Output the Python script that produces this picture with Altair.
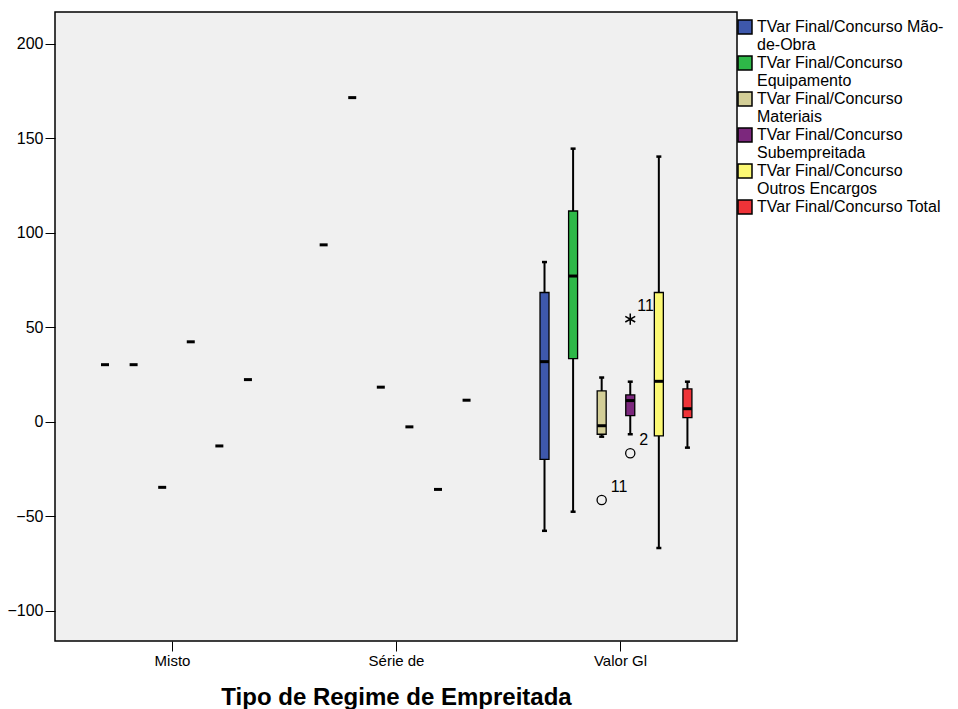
import altair as alt
import pandas as pd

# ---------------- data ----------------
categories = ["Misto", "Série de", "Valor Gl"]
series = [
    "TVar Final/Concurso Mão-de-Obra",
    "TVar Final/Concurso Equipamento",
    "TVar Final/Concurso Materiais",
    "TVar Final/Concurso Subempreitada",
    "TVar Final/Concurso Outros Encargos",
    "TVar Final/Concurso Total",
]
legend_lines = [
    ["TVar Final/Concurso Mão-", "de-Obra"],
    ["TVar Final/Concurso", "Equipamento"],
    ["TVar Final/Concurso", "Materiais"],
    ["TVar Final/Concurso", "Subempreitada"],
    ["TVar Final/Concurso", "Outros Encargos"],
    ["TVar Final/Concurso Total"],
]
colors = ["#3E58AC", "#2EB848", "#D3CE97", "#7C287D", "#FBF873", "#EF3338"]

# single-case groups (Misto, Série de)
misto_values = [30.3, 30.3, -34.6, 42.4, -12.7, 22.4]
serie_values = [93.7, 171.6, 18.4, -2.6, -35.7, 11.5]

# Valor Gl box statistics
vg_low = [-57.6, -47.5, -7.8, -6.5, -66.7, -13.6]
vg_q1 = [-19.8, 33.5, -6.5, 3.3, -7.4, 2.3]
vg_median = [31.9, 77.2, -2.0, 11.3, 21.5, 7.0]
vg_q3 = [68.5, 111.6, 16.4, 14.3, 68.5, 17.5]
vg_high = [84.6, 144.6, 23.5, 21.3, 140.4, 21.3]

# outliers (Valor Gl)
outlier_series = [series[2], series[3]]
outlier_values = [-41.3, -16.6]
outlier_labels = ["11", "2"]
extreme_series = [series[3]]
extreme_values = [54.4]
extreme_labels = ["11"]

# ---------------- layout helpers ----------------
cat_center = [0.5, 1.5, 2.5]
cluster_shift = [0.020, -0.004, -0.018]
slot = 0.1276


def xpos(cat_i, ser_name):
    s = series.index(ser_name)
    return cat_center[cat_i] + cluster_shift[cat_i] + (s - 2.5) * slot


single_rows = []
for ci, vals in [(0, misto_values), (1, serie_values)]:
    for s, v in zip(series, vals):
        single_rows.append({"cat": categories[ci], "series": s, "x": xpos(ci, s), "v": v})
single_df = pd.DataFrame(single_rows)

box_df = pd.DataFrame({
    "cat": categories[2],
    "series": series,
    "x": [xpos(2, s) for s in series],
    "low": vg_low, "q1": vg_q1, "median": vg_median, "q3": vg_q3, "high": vg_high,
})

out_df = pd.DataFrame({
    "series": outlier_series,
    "x": [xpos(2, s) for s in outlier_series],
    "v": outlier_values,
    "label": outlier_labels,
})
ext_df = pd.DataFrame({
    "series": extreme_series,
    "x": [xpos(2, s) for s in extreme_series],
    "v": extreme_values,
    "label": extreme_labels,
})

# ---------------- scales ----------------
FONT = "Liberation Sans"
xscale = alt.Scale(domain=[0, 3], nice=False, zero=False)
yscale = alt.Scale(domain=[-115.9, 216.9], nice=False, zero=False)

label_expr_x = " : ".join(
    [f"abs(datum.value - {c}) < 0.01 ? '{n}'" for c, n in zip(cat_center, categories)]
) + " : ''"

legend_expr = " : ".join(
    [f"datum.label == '{s}' ? {lines!r}" for s, lines in zip(series, legend_lines)]
) + " : datum.label"

X = alt.X(
    "x:Q", scale=xscale,
    axis=alt.Axis(
        values=cat_center, labelExpr=label_expr_x, title="Tipo de Regime de Empreitada",
        grid=False, domain=False, tickColor="black", tickSize=10, tickWidth=1,
        labelFont=FONT, labelFontSize=15, labelColor="black", labelPadding=2,
        titleFont=FONT, titleFontSize=24, titleFontWeight="bold", titleColor="black",
        titlePadding=17,
    ),
)
Y = alt.Y(
    "v:Q", scale=yscale,
    axis=alt.Axis(
        values=[-100, -50, 0, 50, 100, 150, 200], title=None, grid=False, domain=False,
        tickColor="black", tickSize=10, tickWidth=1,
        labelFont=FONT, labelFontSize=16, labelColor="black", labelPadding=2,
    ),
)

color = alt.Color(
    "series:N",
    scale=alt.Scale(domain=series, range=colors),
    sort=series,
    legend=alt.Legend(
        title=None, orient="none", legendX=682, legendY=7,
        symbolType="square", symbolSize=196, symbolStrokeColor="black",
        symbolStrokeWidth=1.5, symbolOpacity=1,
        labelFont=FONT, labelFontSize=16, labelColor="black",
        labelLimit=400, labelOffset=4, labelExpr=legend_expr, rowPadding=0,
        padding=0,
    ),
)

single = alt.Chart(single_df).mark_tick(
    orient="horizontal", size=8, thickness=3, color="black", opacity=1
).encode(x=X, y=Y)

whisk = alt.Chart(box_df).mark_rule(color="black", strokeWidth=2, opacity=1).encode(
    x=alt.X("x:Q", scale=xscale), y=alt.Y("low:Q", scale=yscale), y2="high:Q"
)
boxes = alt.Chart(box_df).mark_bar(size=9, stroke="black", strokeWidth=1.3, opacity=1).encode(
    x=alt.X("x:Q", scale=xscale), y=alt.Y("q1:Q", scale=yscale), y2="q3:Q", color=color
)
medians = alt.Chart(box_df).mark_tick(
    orient="horizontal", size=9, thickness=3, color="black", opacity=1
).encode(x=alt.X("x:Q", scale=xscale), y=alt.Y("median:Q", scale=yscale))
cap_lo = alt.Chart(box_df).mark_tick(
    orient="horizontal", size=5, thickness=2.5, color="black", opacity=1
).encode(x=alt.X("x:Q", scale=xscale), y=alt.Y("low:Q", scale=yscale))
cap_hi = alt.Chart(box_df).mark_tick(
    orient="horizontal", size=5, thickness=2.5, color="black", opacity=1
).encode(x=alt.X("x:Q", scale=xscale), y=alt.Y("high:Q", scale=yscale))

outs = alt.Chart(out_df).mark_point(
    shape="circle", filled=False, size=85, color="black", strokeWidth=1.3, opacity=1
).encode(x=alt.X("x:Q", scale=xscale), y=alt.Y("v:Q", scale=yscale))
out_txt = alt.Chart(out_df).mark_text(
    align="left", baseline="alphabetic", dx=9, dy=-8, font=FONT, fontSize=16, color="black"
).encode(x=alt.X("x:Q", scale=xscale), y=alt.Y("v:Q", scale=yscale), text="label:N")

star_path = "M0,-1L0,1M-0.87,-0.5L0.87,0.5M-0.87,0.5L0.87,-0.5"
ext = alt.Chart(ext_df).mark_point(
    shape=star_path, filled=False, size=130, color="black", strokeWidth=1.5, opacity=1
).encode(x=alt.X("x:Q", scale=xscale), y=alt.Y("v:Q", scale=yscale))
ext_txt = alt.Chart(ext_df).mark_text(
    align="left", baseline="alphabetic", dx=7, dy=-8, font=FONT, fontSize=16, color="black"
).encode(x=alt.X("x:Q", scale=xscale), y=alt.Y("v:Q", scale=yscale), text="label:N")

chart = alt.layer(
    single, whisk, boxes, medians, cap_lo, cap_hi, outs, out_txt, ext, ext_txt
).properties(
    width=682, height=629,
    autosize=alt.AutoSizeParams(type="none"),
    padding={"left": 55, "top": 12, "right": 221, "bottom": 68},
    background="white",
).configure_view(
    fill="#F0F0F0", stroke="black", strokeWidth=1.5
)

chart.save("out.html", embed_options={"renderer": "svg", "actions": False})
